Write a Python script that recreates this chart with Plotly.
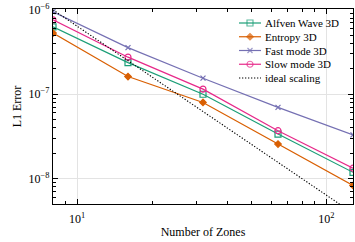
import plotly.graph_objects as go

zones = [8, 16, 32, 64, 128]
alfven = [6.3e-7, 2.37e-7, 1.0e-7, 3.38e-8, 1.19e-8]
entropy = [5.3e-7, 1.62e-7, 8.0e-8, 2.57e-8, 8.3e-9]
fast = [9.5e-7, 3.57e-7, 1.55e-7, 7.0e-8, 3.3e-8]
slow = [7.6e-7, 2.75e-7, 1.15e-7, 3.7e-8, 1.33e-8]
ideal = [1.0e-6, 2.5e-7, 6.25e-8, 1.56e-8, 3.9e-9]

x_major = [10, 100]
x_major_text = ["10<sup>1</sup>", "10<sup>2</sup>"]
x_minor = [9, 20, 30, 40, 50, 60, 70, 80, 90]
y_major = [1e-8, 1e-7, 1e-6]
y_major_text = ["10<sup>−8</sup>", "10<sup>−7</sup>", "10<sup>−6</sup>"]
y_minor = [m * 10.0 ** e for e in (-9, -8, -7) for m in range(2, 10)]

FONT = "Liberation Serif"
W, H = 355, 242
ML, MR, MT, MB = 53, 2, 9, 38
PW, PH = W - ML - MR, H - MT - MB

fig = go.Figure()
series = [
    ("Alfven Wave 3D", alfven, "#1b9e77", "square-open", 6),
    ("Entropy 3D", entropy, "#d95f02", "diamond", 5),
    ("Fast mode 3D", fast, "#7570b3", "x-thin-open", 5),
    ("Slow mode 3D", slow, "#e7298a", "circle-open", 6),
]
for name, ys, col, sym, sz in series:
    fig.add_trace(go.Scatter(
        x=zones, y=ys, name=name, mode="lines+markers",
        line=dict(color=col, width=1.2),
        marker=dict(symbol=sym, size=sz, color=col, line=dict(color=col, width=1.2)),
        showlegend=False,
    ))
fig.add_trace(go.Scatter(
    x=zones, y=ideal, name="ideal scaling", mode="lines",
    line=dict(color="black", width=1.1, dash="1.3px,1.7px"),
    showlegend=False,
))

# custom compact legend (drawn on an overlay axis in plot-fraction units)
def fx(px):
    return (px - ML) / PW

def fy(py):
    return (MT + PH - py) / PH

leg_x0, leg_x1, leg_tx = 239, 261, 263
row0, row_step = 23, 13.75
entries = [(n, c, s, z) for n, _, c, s, z in series] + [("ideal scaling", "black", None, 0)]
for i, (name, col, sym, sz) in enumerate(entries):
    yy = fy(row0 + i * row_step)
    if sym is None:
        fig.add_trace(go.Scatter(
            x=[fx(leg_x0), fx(leg_x1)], y=[yy, yy], mode="lines",
            line=dict(color=col, width=1.1, dash="1.3px,1.7px"),
            xaxis="x2", yaxis="y2", showlegend=False, hoverinfo="skip"))
    else:
        fig.add_trace(go.Scatter(
            x=[fx(leg_x0), fx((leg_x0 + leg_x1) / 2), fx(leg_x1)], y=[yy, yy, yy],
            mode="lines+markers",
            line=dict(color=col, width=1.2),
            marker=dict(symbol=sym, size=[0, sz, 0], color=col, line=dict(color=col, width=1.2)),
            xaxis="x2", yaxis="y2", showlegend=False, hoverinfo="skip"))
    fig.add_annotation(x=fx(leg_tx), y=yy, xref="x2", yref="y2", text=name,
                       showarrow=False, xanchor="left", yanchor="middle",
                       font=dict(family=FONT, size=11, color="black"))

axis_common = dict(
    type="log", showline=True, linecolor="black", linewidth=1.3, mirror="ticks",
    ticks="inside", ticklen=5, tickcolor="black", tickwidth=1,
    showgrid=True, gridcolor="#e3e3e3", gridwidth=1, zeroline=False,
    tickfont=dict(family=FONT, size=12, color="black"),
    title_font=dict(family=FONT, size=12, color="black"),
)
fig.update_layout(
    xaxis=dict(**axis_common, range=[0.90309, 2.10721],
               tickvals=x_major, ticktext=x_major_text, ticklabelstandoff=3,
               minor=dict(tickvals=x_minor, ticks="inside", ticklen=3, tickcolor="black", showgrid=False),
               title_text="Number of Zones", title_standoff=3),
    yaxis=dict(**axis_common, range=[-8.30, -5.99],
               tickvals=y_major, ticktext=y_major_text,
               minor=dict(tickvals=y_minor, ticks="inside", ticklen=3, tickcolor="black", showgrid=False),
               title_text="L1 Error", title_standoff=4),
    xaxis2=dict(overlaying="x", range=[0, 1], visible=False, fixedrange=True),
    yaxis2=dict(overlaying="y", range=[0, 1], visible=False, fixedrange=True),
    width=W, height=H,
    margin=dict(l=ML, r=MR, t=MT, b=MB),
    paper_bgcolor="white", plot_bgcolor="white",
    font=dict(family=FONT, size=11, color="black"),
    showlegend=False,
)
fig.write_html("out.html", config={"displayModeBar": False},
               post_script="document.body.style.margin='0';document.body.style.padding='0';")
